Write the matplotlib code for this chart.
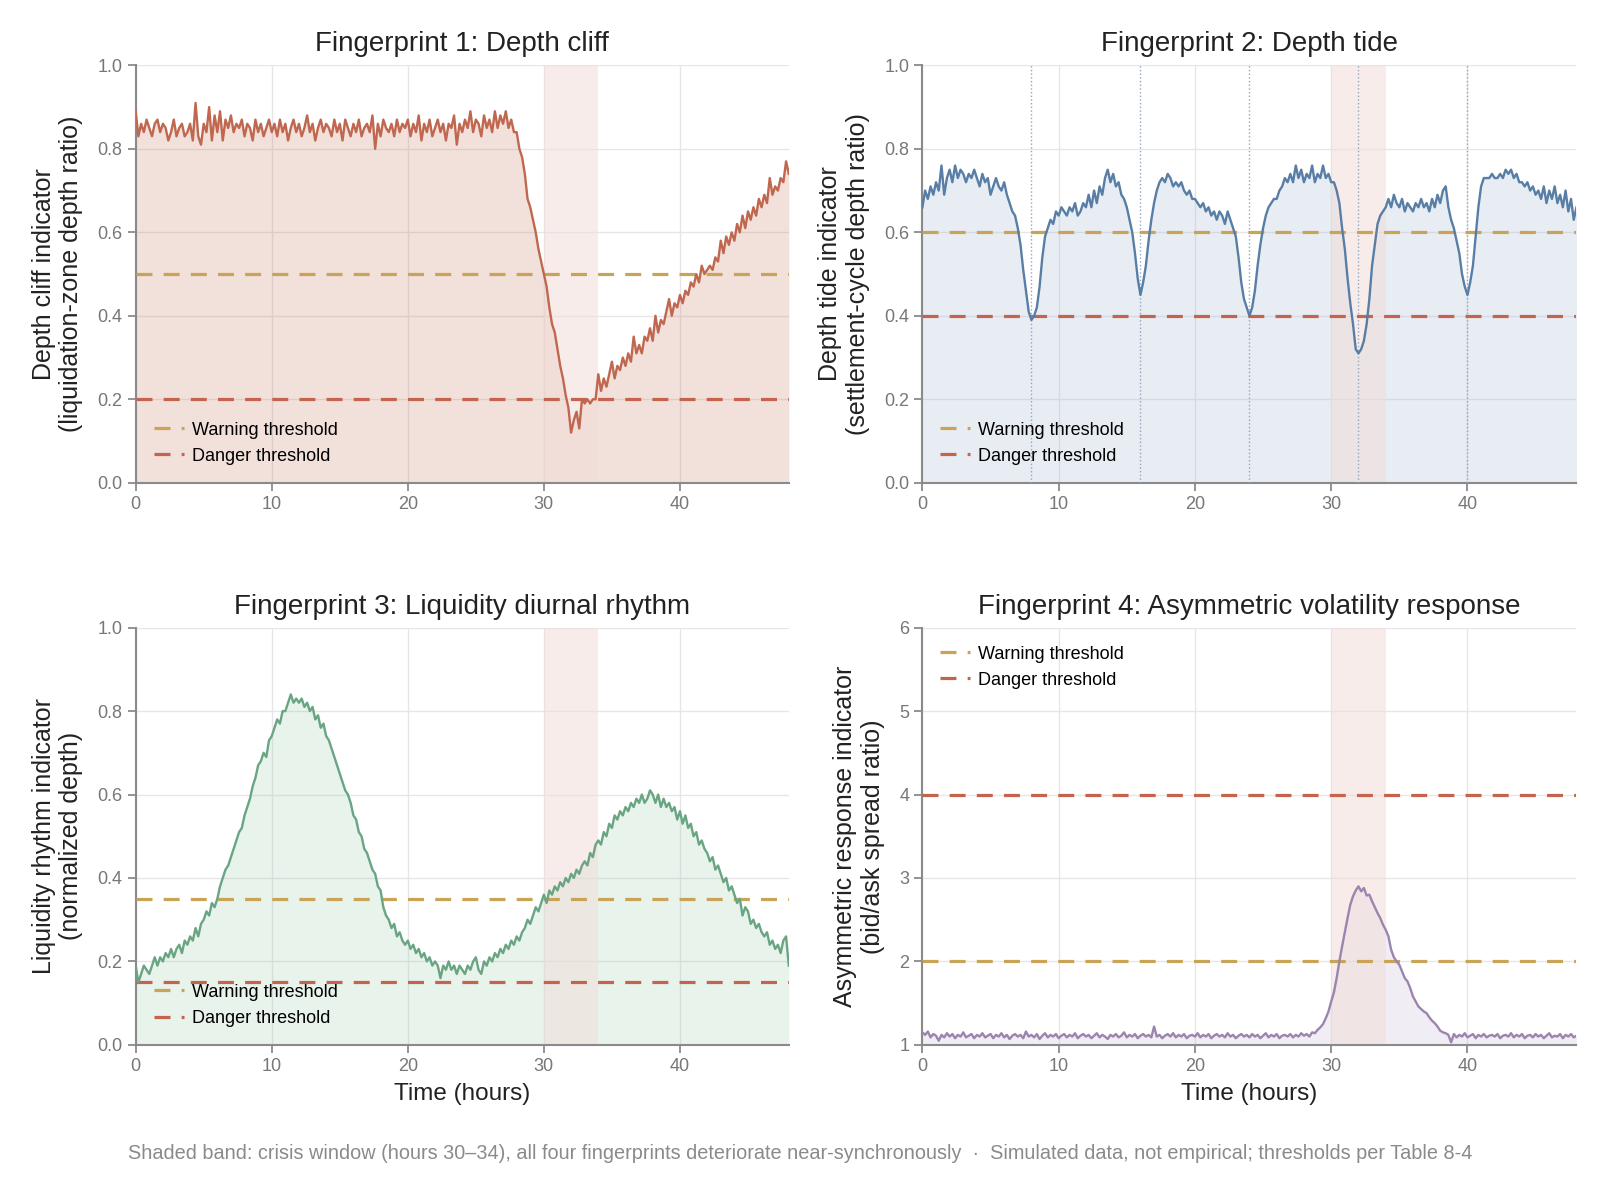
import numpy as np
import matplotlib
matplotlib.use("Agg")
import matplotlib.pyplot as plt

plt.rcParams['font.family'] = ['Liberation Sans', 'DejaVu Sans']

# ---- data (values every 0.2 h, hours 0..48) ----
depth_cliff = [
    0.89, 0.83, 0.86, 0.84, 0.87, 0.85, 0.83, 0.86, 0.87, 0.84,
    0.86, 0.85, 0.82, 0.84, 0.87, 0.83, 0.85, 0.86, 0.83, 0.84,
    0.86, 0.82, 0.91, 0.83, 0.81, 0.86, 0.84, 0.90, 0.82, 0.88,
    0.84, 0.89, 0.82, 0.87, 0.85, 0.88, 0.84, 0.86, 0.85, 0.87,
    0.83, 0.86, 0.85, 0.82, 0.87, 0.84, 0.86, 0.83, 0.85, 0.87,
    0.84, 0.86, 0.83, 0.87, 0.84, 0.86, 0.82, 0.85, 0.87, 0.84,
    0.86, 0.83, 0.85, 0.88, 0.84, 0.86, 0.82, 0.85, 0.87, 0.84,
    0.86, 0.85, 0.83, 0.87, 0.84, 0.86, 0.82, 0.87, 0.85, 0.83,
    0.86, 0.84, 0.87, 0.83, 0.85, 0.86, 0.84, 0.88, 0.80, 0.86,
    0.83, 0.87, 0.85, 0.84, 0.86, 0.83, 0.87, 0.84, 0.86, 0.85,
    0.87, 0.83, 0.86, 0.84, 0.88, 0.82, 0.86, 0.84, 0.87, 0.83,
    0.85, 0.87, 0.84, 0.86, 0.82, 0.86, 0.85, 0.88, 0.81, 0.86,
    0.84, 0.87, 0.85, 0.89, 0.84, 0.87, 0.86, 0.83, 0.88, 0.85,
    0.87, 0.84, 0.89, 0.85, 0.88, 0.86, 0.89, 0.85, 0.87, 0.84,
    0.84, 0.80, 0.78, 0.74, 0.68, 0.66, 0.63, 0.60, 0.56, 0.53,
    0.50, 0.47, 0.42, 0.38, 0.36, 0.32, 0.28, 0.25, 0.21, 0.18,
    0.12, 0.15, 0.17, 0.13, 0.20, 0.19, 0.20, 0.19, 0.20, 0.20,
    0.26, 0.22, 0.25, 0.23, 0.26, 0.29, 0.25, 0.28, 0.27, 0.30,
    0.28, 0.31, 0.29, 0.35, 0.31, 0.33, 0.31, 0.35, 0.34, 0.37,
    0.34, 0.40, 0.36, 0.39, 0.38, 0.41, 0.44, 0.40, 0.43, 0.42,
    0.45, 0.43, 0.46, 0.45, 0.48, 0.47, 0.50, 0.48, 0.52, 0.50,
    0.51, 0.52, 0.51, 0.54, 0.53, 0.58, 0.55, 0.59, 0.57, 0.60,
    0.58, 0.62, 0.60, 0.64, 0.61, 0.65, 0.63, 0.66, 0.64, 0.68,
    0.66, 0.69, 0.67, 0.73, 0.69, 0.71, 0.70, 0.73, 0.72, 0.77,
    0.74,
]

depth_tide = [
    0.66, 0.70, 0.68, 0.71, 0.69, 0.72, 0.70, 0.76, 0.69, 0.73,
    0.75, 0.72, 0.76, 0.73, 0.75, 0.74, 0.72, 0.74, 0.73, 0.75,
    0.73, 0.71, 0.74, 0.72, 0.73, 0.69, 0.71, 0.73, 0.71, 0.70,
    0.72, 0.69, 0.67, 0.65, 0.64, 0.61, 0.57, 0.51, 0.46, 0.41,
    0.39, 0.40, 0.42, 0.47, 0.54, 0.59, 0.61, 0.63, 0.62, 0.65,
    0.64, 0.66, 0.65, 0.64, 0.66, 0.65, 0.67, 0.64, 0.65, 0.67,
    0.66, 0.69, 0.66, 0.70, 0.67, 0.71, 0.69, 0.73, 0.75, 0.72,
    0.74, 0.71, 0.72, 0.69, 0.68, 0.66, 0.63, 0.60, 0.55, 0.49,
    0.45, 0.48, 0.52, 0.58, 0.63, 0.67, 0.70, 0.72, 0.73, 0.72,
    0.74, 0.73, 0.71, 0.72, 0.71, 0.72, 0.70, 0.69, 0.70, 0.68,
    0.68, 0.67, 0.66, 0.67, 0.65, 0.66, 0.64, 0.65, 0.63, 0.65,
    0.64, 0.62, 0.65, 0.63, 0.61, 0.59, 0.54, 0.48, 0.44, 0.42,
    0.40, 0.42, 0.46, 0.52, 0.57, 0.61, 0.64, 0.66, 0.67, 0.68,
    0.68, 0.70, 0.71, 0.73, 0.72, 0.74, 0.72, 0.76, 0.73, 0.75,
    0.72, 0.74, 0.73, 0.76, 0.72, 0.74, 0.73, 0.76, 0.73, 0.74,
    0.72, 0.72, 0.70, 0.67, 0.61, 0.56, 0.49, 0.43, 0.38, 0.32,
    0.31, 0.32, 0.34, 0.38, 0.44, 0.52, 0.57, 0.62, 0.64, 0.65,
    0.66, 0.68, 0.66, 0.69, 0.67, 0.66, 0.68, 0.65, 0.67, 0.66,
    0.65, 0.67, 0.66, 0.68, 0.66, 0.67, 0.65, 0.68, 0.66, 0.69,
    0.67, 0.70, 0.71, 0.66, 0.63, 0.61, 0.58, 0.55, 0.50, 0.47,
    0.45, 0.48, 0.52, 0.59, 0.66, 0.71, 0.73, 0.73, 0.73, 0.74,
    0.73, 0.73, 0.74, 0.73, 0.75, 0.74, 0.75, 0.73, 0.74, 0.72,
    0.72, 0.71, 0.72, 0.70, 0.71, 0.69, 0.70, 0.68, 0.71, 0.67,
    0.70, 0.68, 0.71, 0.67, 0.69, 0.66, 0.70, 0.65, 0.68, 0.63,
    0.66,
]

liquidity_rhythm = [
    0.19, 0.15, 0.17, 0.19, 0.18, 0.17, 0.19, 0.21, 0.19, 0.21,
    0.20, 0.22, 0.21, 0.23, 0.21, 0.23, 0.24, 0.22, 0.25, 0.24,
    0.26, 0.25, 0.28, 0.26, 0.29, 0.30, 0.32, 0.31, 0.34, 0.33,
    0.35, 0.38, 0.40, 0.42, 0.43, 0.45, 0.47, 0.49, 0.51, 0.52,
    0.55, 0.57, 0.59, 0.62, 0.64, 0.67, 0.68, 0.70, 0.69, 0.73,
    0.74, 0.76, 0.78, 0.77, 0.80, 0.80, 0.82, 0.84, 0.82, 0.83,
    0.82, 0.83, 0.81, 0.82, 0.80, 0.81, 0.78, 0.79, 0.76, 0.77,
    0.74, 0.73, 0.71, 0.69, 0.67, 0.65, 0.63, 0.61, 0.60, 0.58,
    0.55, 0.54, 0.51, 0.50, 0.47, 0.46, 0.44, 0.42, 0.41, 0.38,
    0.37, 0.33, 0.31, 0.30, 0.28, 0.29, 0.26, 0.27, 0.25, 0.24,
    0.25, 0.23, 0.24, 0.22, 0.23, 0.21, 0.22, 0.20, 0.21, 0.19,
    0.20, 0.19, 0.16, 0.19, 0.18, 0.20, 0.18, 0.19, 0.17, 0.19,
    0.18, 0.17, 0.19, 0.18, 0.20, 0.21, 0.18, 0.17, 0.20, 0.19,
    0.21, 0.20, 0.22, 0.21, 0.23, 0.22, 0.24, 0.23, 0.25, 0.24,
    0.26, 0.25, 0.27, 0.28, 0.30, 0.29, 0.31, 0.33, 0.32, 0.34,
    0.36, 0.34, 0.37, 0.36, 0.38, 0.37, 0.39, 0.38, 0.40, 0.39,
    0.41, 0.40, 0.42, 0.41, 0.43, 0.44, 0.43, 0.46, 0.45, 0.48,
    0.49, 0.48, 0.51, 0.50, 0.53, 0.52, 0.55, 0.54, 0.56, 0.55,
    0.57, 0.56, 0.58, 0.57, 0.59, 0.58, 0.60, 0.58, 0.59, 0.61,
    0.60, 0.58, 0.60, 0.57, 0.59, 0.57, 0.58, 0.56, 0.57, 0.54,
    0.56, 0.53, 0.55, 0.52, 0.53, 0.50, 0.51, 0.48, 0.49, 0.47,
    0.46, 0.44, 0.45, 0.42, 0.43, 0.41, 0.39, 0.40, 0.37, 0.38,
    0.36, 0.34, 0.35, 0.31, 0.33, 0.32, 0.29, 0.30, 0.28, 0.29,
    0.27, 0.26, 0.27, 0.24, 0.25, 0.23, 0.24, 0.22, 0.25, 0.26,
    0.19,
]

asym_response = [
    1.15, 1.12, 1.16, 1.09, 1.13, 1.11, 1.05, 1.12, 1.09, 1.14,
    1.10, 1.13, 1.08, 1.12, 1.10, 1.15, 1.09, 1.11, 1.13, 1.08,
    1.12, 1.10, 1.14, 1.09, 1.11, 1.13, 1.08, 1.12, 1.10, 1.14,
    1.09, 1.12, 1.07, 1.11, 1.13, 1.10, 1.12, 1.08, 1.16, 1.10,
    1.12, 1.09, 1.13, 1.07, 1.11, 1.14, 1.09, 1.12, 1.10, 1.13,
    1.08, 1.11, 1.13, 1.09, 1.12, 1.10, 1.14, 1.08, 1.11, 1.13,
    1.10, 1.12, 1.08, 1.11, 1.14, 1.09, 1.12, 1.10, 1.07, 1.12,
    1.10, 1.13, 1.09, 1.11, 1.15, 1.09, 1.12, 1.10, 1.13, 1.08,
    1.11, 1.13, 1.10, 1.12, 1.09, 1.22, 1.10, 1.12, 1.08, 1.11,
    1.13, 1.10, 1.14, 1.09, 1.12, 1.10, 1.13, 1.08, 1.11, 1.12,
    1.10, 1.14, 1.09, 1.12, 1.10, 1.13, 1.08, 1.11, 1.13, 1.10,
    1.12, 1.09, 1.14, 1.10, 1.12, 1.08, 1.11, 1.13, 1.10, 1.12,
    1.09, 1.13, 1.10, 1.12, 1.08, 1.11, 1.14, 1.09, 1.12, 1.10,
    1.13, 1.08, 1.11, 1.12, 1.10, 1.13, 1.09, 1.12, 1.10, 1.14,
    1.11, 1.13, 1.10, 1.15, 1.14, 1.18, 1.21, 1.25, 1.32, 1.40,
    1.52, 1.63, 1.80, 2.00, 2.18, 2.35, 2.52, 2.68, 2.78, 2.85,
    2.90, 2.84, 2.88, 2.79, 2.80, 2.72, 2.65, 2.58, 2.52, 2.44,
    2.38, 2.30, 2.14, 2.05, 2.00, 1.96, 1.88, 1.80, 1.76, 1.68,
    1.58, 1.52, 1.46, 1.43, 1.40, 1.38, 1.33, 1.29, 1.26, 1.22,
    1.17, 1.15, 1.14, 1.12, 1.03, 1.13, 1.09, 1.12, 1.10, 1.14,
    1.09, 1.11, 1.13, 1.08, 1.12, 1.10, 1.13, 1.09, 1.11, 1.12,
    1.10, 1.13, 1.08, 1.11, 1.12, 1.10, 1.14, 1.09, 1.12, 1.10,
    1.13, 1.08, 1.11, 1.12, 1.09, 1.13, 1.10, 1.12, 1.08, 1.11,
    1.14, 1.09, 1.11, 1.10, 1.13, 1.08, 1.12, 1.10, 1.13, 1.09,
    1.11,
]

tide_cycle_hours = [8, 16, 24, 32, 40]
crisis_start, crisis_end = 30, 34

panels = [
    dict(title='Fingerprint 1: Depth cliff', y=depth_cliff,
         ylabel='Depth cliff indicator\n(liquidation-zone depth ratio)',
         color='#c0674f', fill='#c0674f', warn=0.5, danger=0.2,
         ylim=(0, 1), yticks=[0, 0.2, 0.4, 0.6, 0.8, 1.0], fmt='{:.1f}',
         legend='lower left', base=0),
    dict(title='Fingerprint 2: Depth tide', y=depth_tide,
         ylabel='Depth tide indicator\n(settlement-cycle depth ratio)',
         color='#587ea6', fill='#8fa8c8', warn=0.6, danger=0.4,
         ylim=(0, 1), yticks=[0, 0.2, 0.4, 0.6, 0.8, 1.0], fmt='{:.1f}',
         legend='lower left', base=0),
    dict(title='Fingerprint 3: Liquidity diurnal rhythm', y=liquidity_rhythm,
         ylabel='Liquidity rhythm indicator\n(normalized depth)',
         color='#6aa583', fill='#8cc4a2', warn=0.35, danger=0.15,
         ylim=(0, 1), yticks=[0, 0.2, 0.4, 0.6, 0.8, 1.0], fmt='{:.1f}',
         legend='lower left', base=0),
    dict(title='Fingerprint 4: Asymmetric volatility response', y=asym_response,
         ylabel='Asymmetric response indicator\n(bid/ask spread ratio)',
         color='#9b85ae', fill='#b9a5cc', warn=2, danger=4,
         ylim=(1, 6), yticks=[1, 2, 3, 4, 5, 6], fmt='{:.0f}',
         legend='upper left', base=1),
]

WARN_C = '#c9a456'
DANGER_C = '#c4634e'
TICK_C = '#777777'
SPINE_C = '#8a8a8a'

fig = plt.figure(figsize=(16, 11.82), dpi=100)
positions = [
    [0.0848, 0.5916, 0.4082, 0.3531],
    [0.5765, 0.5916, 0.4088, 0.3531],
    [0.0848, 0.1160, 0.4082, 0.3530],
    [0.5765, 0.1160, 0.4088, 0.3530],
]

for i, (p, pos) in enumerate(zip(panels, positions)):
    ax = fig.add_axes(pos)
    y = np.array(p['y'])
    x = np.linspace(0, 48, len(y))

    ax.fill_between(x, p['base'], y, color=p['fill'], alpha=0.2, lw=0, zorder=2)
    # crisis window drawn over the fill, lightly
    ax.axvspan(crisis_start, crisis_end, color='#f1ded8', alpha=0.55, lw=0, zorder=2.5)
    if i == 1:
        for h in tide_cycle_hours:
            ax.axvline(h, color='#8fa5c0', lw=1, ls=':', zorder=2.6)
    ax.plot(x, y, color=p['color'], lw=1.7, zorder=4)
    ax.axhline(p['warn'], color=WARN_C, lw=2.3, dashes=(5, 3.5),
               label='Warning threshold', zorder=3)
    ax.axhline(p['danger'], color=DANGER_C, lw=2.3, dashes=(5, 3.5),
               label='Danger threshold', zorder=3)

    ax.set_xlim(0, 48)
    ax.set_ylim(*p['ylim'])
    ax.set_xticks([0, 10, 20, 30, 40])
    ax.set_yticks(p['yticks'])
    ax.set_yticklabels([p['fmt'].format(t) for t in p['yticks']])
    ax.grid(True, color='#e6e6ea', lw=1, zorder=0)
    ax.set_axisbelow(True)
    for s in ['top', 'right']:
        ax.spines[s].set_visible(False)
    for s in ['left', 'bottom']:
        ax.spines[s].set_color(SPINE_C)
        ax.spines[s].set_linewidth(1.5)
    ax.tick_params(axis='both', colors=SPINE_C, labelcolor=TICK_C,
                   labelsize=13, length=6, width=1.3)

    ax.set_title(p['title'], fontsize=20, color='#222222', pad=10)
    ax.set_ylabel(p['ylabel'], fontsize=18, color='#222222', labelpad=10)
    if i >= 2:
        ax.set_xlabel('Time (hours)', fontsize=17.5, color='#222222', labelpad=6)

    ax.legend(loc=p['legend'], frameon=False, fontsize=13,
              handlelength=1.65, handletextpad=0.45,
              borderaxespad=0.6, labelspacing=0.5)

fig.text(0.5, 0.024,
         'Shaded band: crisis window (hours 30\u201334), all four fingerprints deteriorate '
         'near-synchronously  \u00b7  Simulated data, not empirical; thresholds per Table 8-4',
         ha='center', va='center', fontsize=14.3, color='#8a8a8a')

fig.savefig('out.png', dpi=100)
